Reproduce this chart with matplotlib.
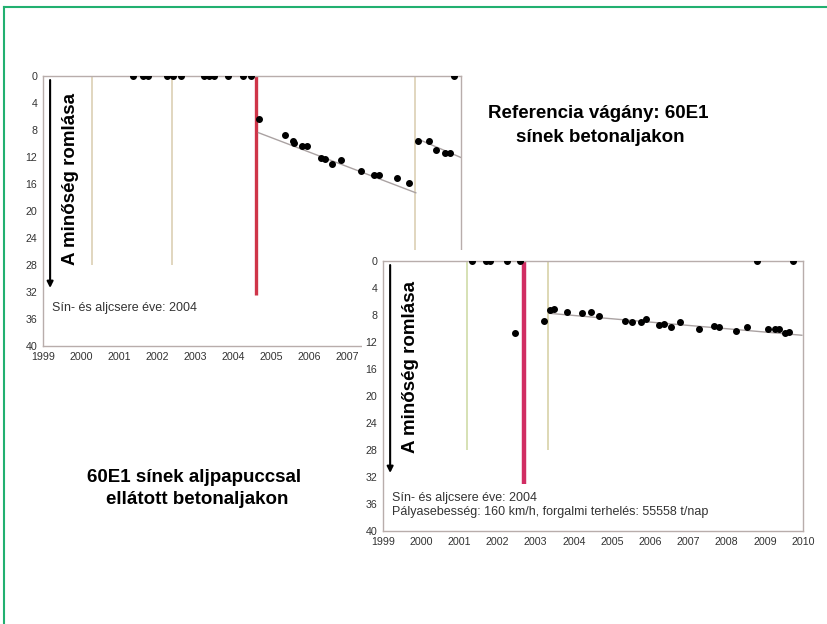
import matplotlib.pyplot as plt
from matplotlib.lines import Line2D

plt.rcParams['font.family'] = ['Liberation Sans', 'DejaVu Sans']

# --- Referencia vágány (60E1 sínek betonaljakon) ---
ref_zero_x = [2001.37, 2001.63, 2001.77, 2002.27, 2002.43, 2002.62, 2003.23,
              2003.36, 2003.49, 2003.87, 2004.27, 2004.48, 2009.82]
ref_x = [2004.69, 2005.38, 2005.57, 2005.61, 2005.81, 2005.94, 2006.31, 2006.42,
         2006.61, 2006.85, 2007.37, 2007.72, 2007.85, 2008.31, 2008.63,
         2008.87, 2009.16, 2009.35, 2009.58, 2009.71]
ref_y = [6.4, 8.8, 9.6, 9.9, 10.3, 10.4, 12.2, 12.3, 13.0, 12.4, 14.1, 14.7, 14.7,
         15.1, 15.9, 9.7, 9.6, 10.9, 11.4, 11.4]
ref_trend1_x = [2004.67, 2008.81]
ref_trend1_y = [8.4, 17.3]
ref_trend2_x = [2008.85, 2010.05]
ref_trend2_y = [9.3, 12.2]
ref_works = [2000.28, 2002.4, 2008.8]
ref_renewal = 2004.6

# --- 60E1 sínek aljpapuccsal ellátott betonaljakon ---
usp_zero_x = [2001.32, 2001.71, 2001.81, 2002.24, 2002.6, 2008.79, 2009.74]
usp_x = [2002.47, 2003.21, 2003.37, 2003.47, 2003.81, 2004.22, 2004.46, 2004.65,
         2005.33, 2005.53, 2005.76, 2005.89, 2006.24, 2006.37, 2006.55, 2006.79,
         2007.28, 2007.66, 2007.79, 2008.25, 2008.54, 2009.09, 2009.26, 2009.37,
         2009.53, 2009.63]
usp_y = [10.7, 8.86, 7.3, 7.1, 7.5, 7.7, 7.5, 8.2, 8.86, 9.1, 9.1, 8.6, 9.45, 9.4,
         9.8, 9.1, 10.1, 9.6, 9.85, 10.3, 9.8, 10.0, 10.1, 10.1, 10.6, 10.45]
usp_trend_x = [2003.35, 2009.97]
usp_trend_y = [7.75, 11.0]
usp_works = [2001.2, 2003.32]
usp_works_colors = ['#cfdca8', '#d8d2a8']
usp_renewal = 2002.68

years = list(range(1999, 2011))
ref_years = years[:9]  # later years sit under the second panel
yticks = list(range(0, 41, 4))

W, H = 827, 624
fig = plt.figure(figsize=(W / 100, H / 100), dpi=100)


def px_axes(left, top, right, bottom):
    return fig.add_axes([left / W, 1 - bottom / H, (right - left) / W, (bottom - top) / H])


def style(ax, xt):
    ax.set_xlim(1999, 2010)
    ax.set_ylim(40, 0)
    ax.set_xticks(xt)
    ax.set_yticks(yticks)
    ax.tick_params(length=0, labelsize=7.7, labelcolor='#333333', pad=4)
    for s in ax.spines.values():
        s.set_color('#b8adab')
        s.set_linewidth(1)


def arrow_label(ax, xl):
    ax.annotate('', xy=(0.017, 0.215), xytext=(0.017, 0.985), xycoords='axes fraction',
                arrowprops=dict(arrowstyle='-|>', color='black', lw=1.5,
                                mutation_scale=9, shrinkA=0, shrinkB=0))
    ax.text(0.065, xl, 'A minőség romlása', transform=ax.transAxes, rotation=90,
            ha='center', va='center', fontsize=13.5, fontweight='bold')


ax1 = px_axes(43, 76, 461, 346)
ax1.set_zorder(1)
style(ax1, ref_years)
ax1.vlines(ref_works, 0, 28, color='#dcd0b4', lw=1.2)
ax1.vlines(ref_renewal, 0, 32.5, color='#cf3549', lw=2.4)
ax1.plot(ref_trend1_x, ref_trend1_y, color='#aaa2a2', lw=1)
ax1.plot(ref_trend2_x, ref_trend2_y, color='#aaa2a2', lw=1)
ax1.scatter(ref_zero_x, [0] * len(ref_zero_x), s=16, color='black', zorder=3)
ax1.scatter(ref_x, ref_y, s=16, color='black', zorder=3)
arrow_label(ax1, 0.62)
ax1.text(0.0215, 0.141, 'Sín- és aljcsere éve: 2004', transform=ax1.transAxes,
         fontsize=9, color='#333333', va='center')

# white panel behind the second chart
bg = px_axes(362, 250, 827, 560)
bg.set_zorder(2)
bg.axis('off')
bg.add_patch(plt.Rectangle((0, 0), 1, 1, transform=bg.transAxes, color='white'))

ax2 = px_axes(383, 261, 803, 531)
ax2.set_zorder(3)
style(ax2, years)
ax2.vlines(usp_works, 0, 28, colors=usp_works_colors, lw=1.2)
ax2.vlines(usp_renewal, 0, 33, color='#d12d63', lw=3.2)
ax2.plot(usp_trend_x, usp_trend_y, color='#aaa2a2', lw=1)
ax2.scatter(usp_zero_x, [0] * len(usp_zero_x), s=16, color='black', zorder=3)
ax2.scatter(usp_x, usp_y, s=16, color='black', zorder=3)
arrow_label(ax2, 0.607)
ax2.text(0.021, 0.123, 'Sín- és aljcsere éve: 2004', transform=ax2.transAxes,
         fontsize=9, color='#333333', va='center')
ax2.text(0.021, 0.0715, 'Pályasebesség: 160 km/h, forgalmi terhelés: 55558 t/nap',
         transform=ax2.transAxes, fontsize=9, color='#333333', va='center')

# chart titles
fig.text(598 / W, 1 - 113 / H, 'Referencia vágány: 60E1', ha='center', va='center',
         fontsize=13.5, fontweight='bold')
fig.text(600 / W, 1 - 138 / H, 'sínek betonaljakon', ha='center', va='center',
         fontsize=13.5, fontweight='bold')
fig.text(194 / W, 1 - 478 / H, '60E1 sínek aljpapuccsal', ha='center', va='center',
         fontsize=13.5, fontweight='bold')
fig.text(197 / W, 1 - 499 / H, 'ellátott betonaljakon', ha='center', va='center',
         fontsize=13.5, fontweight='bold')

# green frame
frame = '#22b070'
fig.add_artist(Line2D([4 / W, 1], [1 - 7 / H, 1 - 7 / H], color=frame, lw=1.5))
fig.add_artist(Line2D([4 / W, 4 / W], [0, 1 - 7 / H], color=frame, lw=1.5))

fig.savefig('out.png', dpi=100)
